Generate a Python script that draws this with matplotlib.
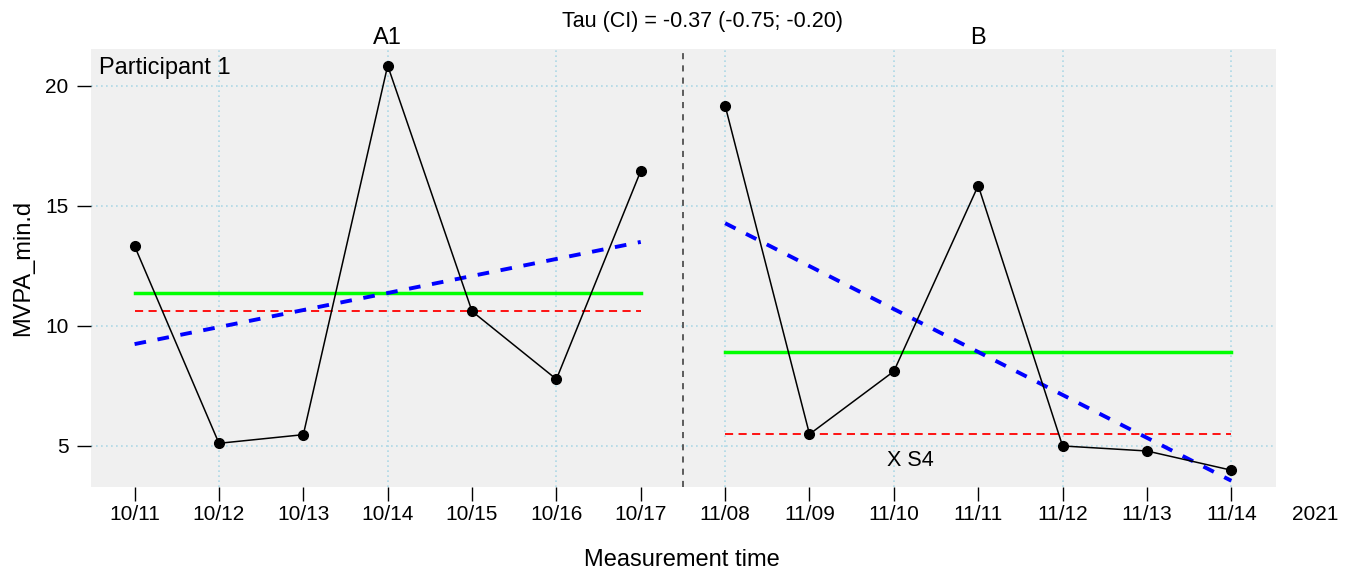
import numpy as np
import matplotlib
matplotlib.use("Agg")
import matplotlib.pyplot as plt
import matplotlib.transforms as mtransforms

plt.rcParams['font.family'] = ['Liberation Sans', 'DejaVu Sans']

# data
dates_a = ["10/11", "10/12", "10/13", "10/14", "10/15", "10/16", "10/17"]
dates_b = ["11/08", "11/09", "11/10", "11/11", "11/12", "11/13", "11/14"]
mvpa_a = [13.33, 5.11, 5.47, 20.85, 10.61, 7.78, 16.46]
mvpa_b = [19.18, 5.49, 8.11, 15.85, 5.00, 4.79, 3.99]
phase_names = ["A1", "B"]
year_label = "2021"
title = "Tau (CI) = -0.37 (-0.75; -0.20)"

fig = plt.figure(figsize=(13.48, 5.74), dpi=100)
ax = fig.add_axes([0.0673, 0.1516, 0.8793, 0.763])
ax.set_facecolor('#F0F0F0')
for s in ax.spines.values():
    s.set_visible(False)

xa = np.arange(len(mvpa_a))
xb = np.arange(len(mvpa_b)) + len(mvpa_a)

# grid (every other x position, y at ticks)
yticks = [5, 10, 15, 20]
for y in yticks:
    ax.axhline(y, color='#ADD8E6', lw=1.2, ls=(0, (1, 2)), zorder=1)
for x in np.arange(1, len(xa) + len(xb), 2):
    ax.axvline(x, color='#ADD8E6', lw=1.2, ls=(0, (1, 2)), zorder=1)

for x, y in [(xa, mvpa_a), (xb, mvpa_b)]:
    y = np.asarray(y)
    ax.plot(x, y, color='black', lw=1.1, marker='o', ms=7, zorder=5)
    ax.plot([x[0], x[-1]], [y.mean()] * 2, color='#00FF00', lw=2.5, zorder=3)
    ax.plot([x[0], x[-1]], [np.median(y)] * 2, color='red', lw=1.3,
            dashes=(4.5, 3), zorder=3)
    k, b = np.polyfit(x, y, 1)
    ax.plot([x[0], x[-1]], [k * x[0] + b, k * x[-1] + b], color='blue',
            lw=2.8, dashes=(3, 3), zorder=4)

# phase separator
ax.axvline((xa[-1] + xb[0]) / 2, color='#333333', lw=1.1, dashes=(4, 4), zorder=2)

ax.set_xticks(list(xa) + list(xb))
ax.set_xticklabels(dates_a + dates_b)
ax.set_yticks(yticks)
ax.tick_params(axis='x', length=10, width=1, pad=3, labelsize=15)
ax.tick_params(axis='y', length=10, width=1, pad=6, labelsize=15)
ax.set_xlim(-0.52, 13.53)
ax.set_ylim(3.29, 21.54)

trans = mtransforms.blended_transform_factory(ax.transData, ax.transAxes)
# year label sits in the tick label row, one step past the last date
ax.annotate(year_label, xy=(len(xa) + len(xb), 0), xycoords=trans,
            xytext=(0, -13), textcoords='offset points', ha='center',
            va='top', fontsize=15, annotation_clip=False)
ax.text(xa.mean(), 1.025, phase_names[0], transform=trans, ha='center',
        va='center', fontsize=17)
ax.text(xb.mean(), 1.025, phase_names[1], transform=trans, ha='center',
        va='center', fontsize=17)
ax.text(0.0072, 0.957, "Participant 1", transform=ax.transAxes, ha='left',
        va='center', fontsize=17)
ax.text(9.19, 4.39, "X S4", ha='center', va='center', fontsize=15.5)

fig.text(702 / 1348, 1 - 21 / 574, title, ha='center', va='center', fontsize=15.5)
fig.text(682 / 1348, 1 - 560 / 574, "Measurement time", ha='center',
         va='center', fontsize=17)
fig.text(22.7 / 1348, 1 - 268 / 574, "MVPA_min.d", ha='center', va='center',
         rotation=90, fontsize=17)

fig.savefig("out.png", dpi=100)
